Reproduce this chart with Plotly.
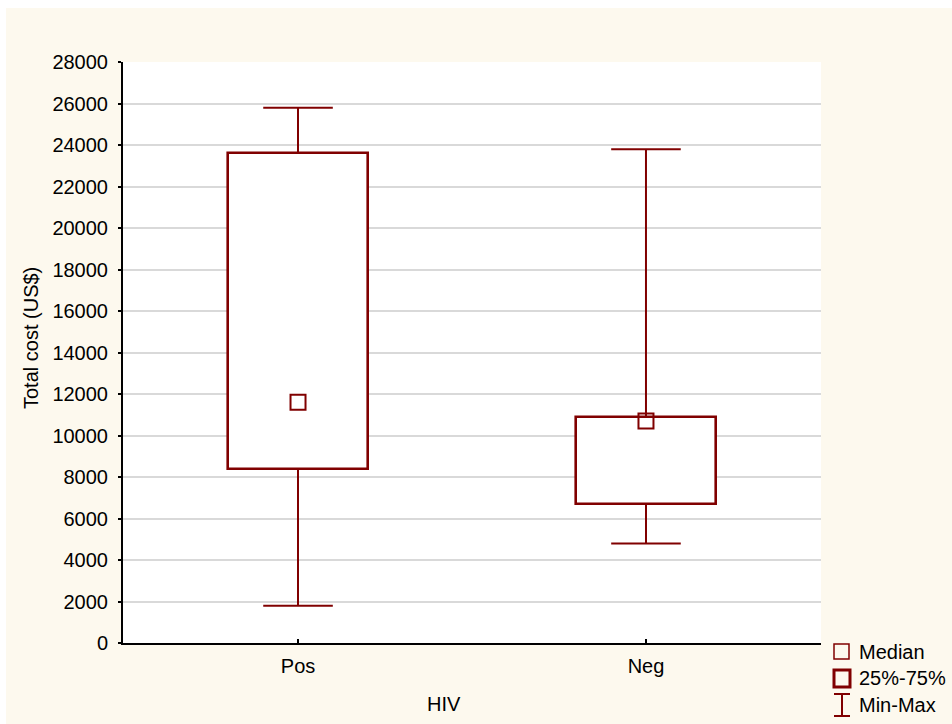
import plotly.graph_objects as go

# ---- data ----
categories = ["Pos", "Neg"]
minimum = [1800, 4800]
q1 = [8400, 6700]
median = [11600, 10700]
q3 = [23600, 10900]
maximum = [25800, 23800]
y_ticks = list(range(0, 28001, 2000))
legend_labels = ["Median", "25%-75%", "Min-Max"]

# ---- style ----
RED = "#800000"
CREAM = "#FDF9EE"
W, H = 952, 724
L, R, T, B = 123, 821, 62, 643
FONT = "Liberation Sans, Arial, sans-serif"
FS = 20

def px(xp):
    return (xp - L) / (R - L)

def py(yp):
    return (B - yp) / (B - T)

xpos = list(range(len(categories)))
BOX_W = 0.4
CAP_HW = 0.1

fig = go.Figure()

# boxes (25%-75%)
fig.add_trace(go.Bar(
    x=xpos, y=[b - a for a, b in zip(q1, q3)], base=q1, width=BOX_W,
    marker=dict(color="white", line=dict(color=RED, width=2.6)),
    showlegend=False, hoverinfo="skip"))

# whiskers
wx, wy = [], []
for i, x in enumerate(xpos):
    wx += [x, x, None, x, x, None,
           x - CAP_HW, x + CAP_HW, None, x - CAP_HW, x + CAP_HW, None]
    wy += [q3[i], maximum[i], None, q1[i], minimum[i], None,
           maximum[i], maximum[i], None, minimum[i], minimum[i], None]
fig.add_trace(go.Scatter(x=wx, y=wy, mode="lines",
                         line=dict(color=RED, width=2),
                         showlegend=False, hoverinfo="skip"))

# medians
fig.add_trace(go.Scatter(x=xpos, y=median, mode="markers",
                         marker=dict(symbol="square-open", size=15, color=RED,
                                     line=dict(color=RED, width=2)),
                         showlegend=False))

shapes = []
# white border strips
shapes.append(dict(type="rect", xref="paper", yref="paper",
                   x0=px(0), x1=px(W), y0=py(0), y1=py(8),
                   fillcolor="white", line=dict(width=0), layer="below"))
shapes.append(dict(type="rect", xref="paper", yref="paper",
                   x0=px(0), x1=px(6), y0=py(H), y1=py(0),
                   fillcolor="white", line=dict(width=0), layer="below"))

# custom legend
sx0, sx1 = 834, 849
ann = []
shapes.append(dict(type="rect", xref="paper", yref="paper",
                   x0=px(sx0), x1=px(sx1), y0=py(659), y1=py(644),
                   line=dict(color=RED, width=1.5), fillcolor="rgba(0,0,0,0)"))
shapes.append(dict(type="rect", xref="paper", yref="paper",
                   x0=px(sx0), x1=px(sx1 + 1), y0=py(687), y1=py(670),
                   line=dict(color=RED, width=3), fillcolor="rgba(0,0,0,0)"))
cx = (sx0 + sx1) / 2 + 0.5
for (xa, ya, xb, yb) in [(cx, 694, cx, 716), (sx0, 694, sx1 + 1, 694), (sx0, 716, sx1 + 1, 716)]:
    shapes.append(dict(type="line", xref="paper", yref="paper",
                       x0=px(xa), y0=py(ya), x1=px(xb), y1=py(yb),
                       line=dict(color=RED, width=2)))
for lab, yy in zip(legend_labels, [652, 678, 705]):
    ann.append(dict(text=lab, xref="paper", yref="paper", x=px(857), y=py(yy),
                    xanchor="left", yanchor="middle", showarrow=False,
                    font=dict(family=FONT, size=FS, color="black")))

# axis titles
ann.append(dict(text="HIV", xref="paper", yref="paper", x=px(444), y=py(704),
                xanchor="center", yanchor="middle", showarrow=False,
                font=dict(family=FONT, size=FS, color="black")))
ann.append(dict(text="Total cost (US$)", xref="paper", yref="paper", x=px(31), y=py(338),
                xanchor="center", yanchor="middle", showarrow=False, textangle=-90,
                font=dict(family=FONT, size=FS, color="black")))

fig.update_layout(
    width=W, height=H,
    margin=dict(l=L, r=W - R, t=T, b=H - B, pad=0),
    paper_bgcolor=CREAM, plot_bgcolor="white",
    font=dict(family=FONT, size=FS, color="black"),
    shapes=shapes, annotations=ann,
    showlegend=False, bargap=0,
    xaxis=dict(range=[-0.503, 1.503], tickvals=xpos, ticktext=categories,
               showgrid=False, zeroline=False, showline=True, linecolor="black",
               linewidth=2, ticks="inside", ticklen=4, tickcolor="black",
               tickwidth=2, ticklabelstandoff=4, fixedrange=True),
    yaxis=dict(range=[0, 28000], tickvals=y_ticks, ticktext=[str(v) for v in y_ticks],
               showgrid=True, gridcolor="#D9D9D9", gridwidth=1.5, zeroline=False,
               showline=True, linecolor="black", linewidth=2,
               ticks="outside", ticklen=3, tickcolor="black", tickwidth=1.5,
               ticklabelstandoff=6, fixedrange=True),
)

fig.write_html("out.html")
